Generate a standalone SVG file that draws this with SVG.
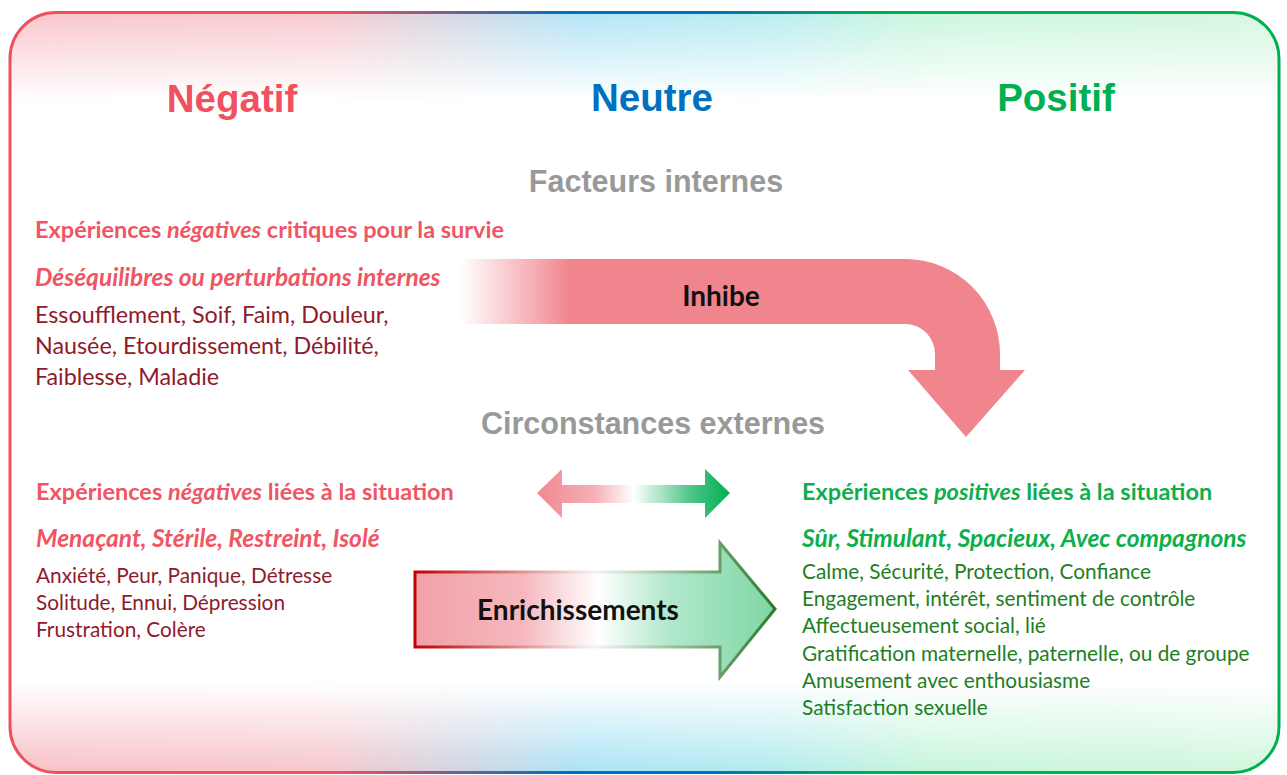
<svg xmlns="http://www.w3.org/2000/svg" width="1287" height="775" viewBox="0 0 1287 775">
<style>
.title{font-family:"Liberation Sans",Arial,sans-serif;font-weight:bold;font-size:38.5px;text-anchor:middle}
.sect{font-family:"Liberation Sans",Arial,sans-serif;font-weight:bold;font-size:30.5px;fill:#999999;text-anchor:middle}
.h{font-family:Lato,"Open Sans",sans-serif;font-weight:bold;font-size:23.5px}
.hi{font-family:Lato,"Open Sans",sans-serif;font-weight:bold;font-style:italic;font-size:24.5px}
.t{font-family:Lato,"Open Sans",sans-serif;font-size:23.3px}
.t2{font-family:Lato,"Open Sans",sans-serif;font-size:20.8px}
.neg{fill:#F05563}
.dneg{fill:#8E1B2B}
.pos{fill:#0DAF4C}
.dpos{fill:#1E7E24}
.lbl{font-family:Lato,"Open Sans",sans-serif;font-weight:bold;font-size:28px;fill:#111;text-anchor:middle}
</style>
<defs>
<linearGradient id="bgH" x1="0" y1="0" x2="1" y2="0">
<stop offset="0" stop-color="#F8BEC4"/>
<stop offset="0.25" stop-color="#F6C4CA"/>
<stop offset="0.45" stop-color="#A8E2F6"/>
<stop offset="0.6" stop-color="#B0EAEE"/>
<stop offset="0.72" stop-color="#C4F5DA"/>
<stop offset="1" stop-color="#CFF6DB"/>
</linearGradient>
<linearGradient id="mV" x1="0" y1="0" x2="0" y2="1">
<stop offset="0" stop-color="#fff"/>
<stop offset="0.13" stop-color="#000"/>
<stop offset="0.88" stop-color="#000"/>
<stop offset="1" stop-color="#fff"/>
</linearGradient>
<mask id="bandMask" maskContentUnits="userSpaceOnUse">
<rect x="0" y="0" width="1287" height="775" fill="url(#mV)"/>
</mask>
<linearGradient id="frameG" gradientUnits="userSpaceOnUse" x1="9" y1="0" x2="1280" y2="0">
<stop offset="0.26" stop-color="#EE5060"/>
<stop offset="0.44" stop-color="#0070C0"/>
<stop offset="0.55" stop-color="#0070C0"/>
<stop offset="0.68" stop-color="#00B050"/>
</linearGradient>
<linearGradient id="inhG" gradientUnits="userSpaceOnUse" x1="460" y1="0" x2="570" y2="0">
<stop offset="0" stop-color="#F1858E" stop-opacity="0"/>
<stop offset="1" stop-color="#F1858E" stop-opacity="1"/>
</linearGradient>
<linearGradient id="dblG" gradientUnits="userSpaceOnUse" x1="537" y1="0" x2="730" y2="0">
<stop offset="0" stop-color="#F08891"/>
<stop offset="0.3" stop-color="#F5B0B6"/>
<stop offset="0.5" stop-color="#FFFFFF"/>
<stop offset="0.8" stop-color="#4CC485"/>
<stop offset="1" stop-color="#00B050"/>
</linearGradient>
<linearGradient id="enrF" gradientUnits="userSpaceOnUse" x1="415" y1="0" x2="775" y2="0">
<stop offset="0" stop-color="#F2A0A8"/>
<stop offset="0.3" stop-color="#F5B8BE"/>
<stop offset="0.51" stop-color="#FFFFFF"/>
<stop offset="0.7" stop-color="#B2E8CC"/>
<stop offset="1" stop-color="#7FD6A5"/>
</linearGradient>
<linearGradient id="enrS" gradientUnits="userSpaceOnUse" x1="415" y1="0" x2="775" y2="0">
<stop offset="0" stop-color="#C00000"/>
<stop offset="0.5" stop-color="#F4F4F4"/>
<stop offset="1" stop-color="#2A7A2A"/>
</linearGradient>
</defs>

<g id="frame">
<rect x="10" y="12.5" width="1269" height="760" rx="46" fill="url(#bgH)" mask="url(#bandMask)"/>
<rect x="10" y="12.5" width="1269" height="760" rx="46" fill="none" stroke="url(#frameG)" stroke-width="3"/>
</g>

<g id="titles">
<text class="title" x="232" y="112" fill="#F0505F">Négatif</text>
<text class="title" x="652" y="111" fill="#0070C0">Neutre</text>
<text class="title" x="1056" y="111" fill="#00B050">Positif</text>
</g>

<g id="facteurs-internes">
<text class="sect" x="656" y="192">Facteurs internes</text>
</g>

<g id="negatif-interne">
<text class="h neg" x="35" y="238">Expériences <tspan font-style="italic">négatives</tspan> critiques pour la survie</text>
<text class="hi neg" x="35" y="286">Déséquilibres ou perturbations internes</text>
<text class="t dneg" x="35" y="323">Essoufflement, Soif, Faim, Douleur,</text>
<text class="t dneg" x="35" y="354">Nausée, Etourdissement, Débilité,</text>
<text class="t dneg" x="35" y="385">Faiblesse, Maladie</text>
</g>

<g id="circonstances-externes">
<text class="sect" x="653" y="434">Circonstances externes</text>
</g>

<g id="negatif-externe">
<text class="h neg" x="36" y="500" font-size="22.7">Expériences <tspan font-style="italic">négatives</tspan> liées à la situation</text>
<text class="hi neg" x="36" y="547" font-size="23.8">Menaçant, Stérile, Restreint, Isolé</text>
<text class="t2 dneg" x="36" y="583">Anxiété, Peur, Panique, Détresse</text>
<text class="t2 dneg" x="36" y="610">Solitude, Ennui, Dépression</text>
<text class="t2 dneg" x="36" y="637">Frustration, Colère</text>
</g>

<g id="positif-externe">
<text class="h pos" x="802" y="500" font-size="22.6">Expériences <tspan font-style="italic">positives</tspan> liées à la situation</text>
<text class="hi pos" x="802" y="547" font-size="23.7">Sûr, Stimulant, Spacieux, Avec compagnons</text>
<text class="t2 dpos" x="802" y="579">Calme, Sécurité, Protection, Confiance</text>
<text class="t2 dpos" x="802" y="606">Engagement, intérêt, sentiment de contrôle</text>
<text class="t2 dpos" x="802" y="633">Affectueusement social, lié</text>
<text class="t2 dpos" x="802" y="661">Gratification maternelle, paternelle, ou de groupe</text>
<text class="t2 dpos" x="802" y="688">Amusement avec enthousiasme</text>
<text class="t2 dpos" x="802" y="715">Satisfaction sexuelle</text>
</g>

<g id="connectors">
<g id="inhibe">
<path d="M460,259 L905,259 A95,95 0 0 1 1000,354 L1000,370 L1025,370 L966,437 L908,370 L935,370 L935,354 A30,30 0 0 0 905,324 L460,324 Z" fill="url(#inhG)"/>
<text class="lbl" x="721" y="306">Inhibe</text>
</g>
<g id="double-arrow">
<path d="M537,493 L562,469 L562,485 L705,485 L705,469 L730,493 L705,518 L705,503 L562,503 L562,518 Z" fill="url(#dblG)"/>
</g>
<g id="enrichissements">
<path d="M415,572 L720,572 L720,543 L775,609 L720,677 L720,647 L415,647 Z" fill="url(#enrF)" stroke="url(#enrS)" stroke-width="3"/>
<text class="lbl" x="578" y="620">Enrichissements</text>
</g>
</g>
</svg>
